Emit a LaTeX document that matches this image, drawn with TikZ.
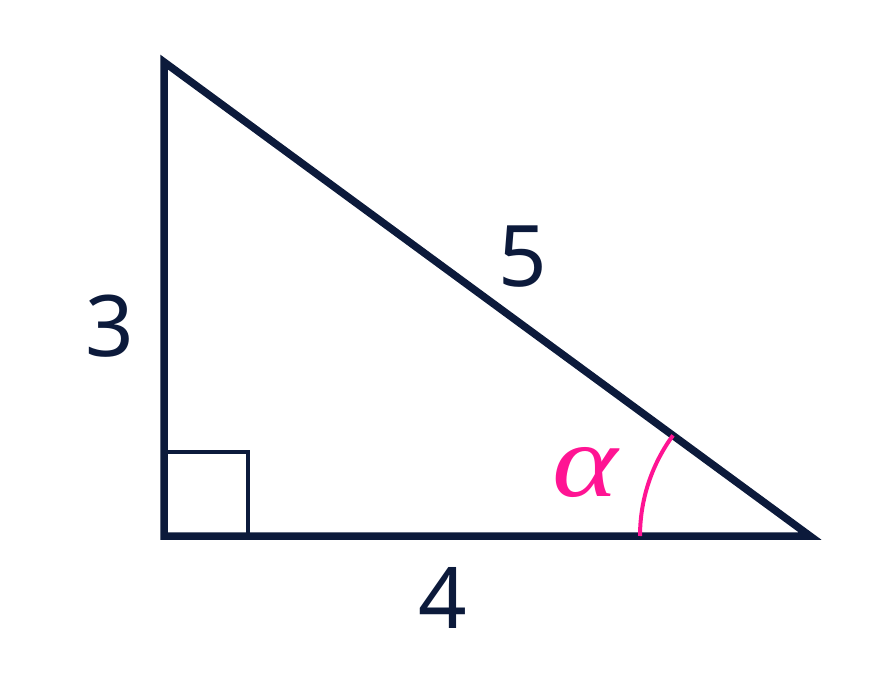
\documentclass[tikz,border=0pt]{standalone}
\usepackage{fontspec}
\setmainfont{Noto Sans}
\newfontfamily\alphafont{Liberation Serif}
\definecolor{navy}{HTML}{0C1A3B}
\definecolor{hotpink}{HTML}{FF1493}
\begin{document}
\begin{tikzpicture}[x=1pt,y=-1pt,
  side/.style={draw=navy,line width=7.5pt,line join=miter},
  rightmark/.style={draw=navy,line width=4pt},
  anglemark/.style={draw=hotpink,line width=4pt},
  numlabel/.style={text=navy,inner sep=0pt,font=\fontsize{85}{85}\selectfont},
  anglelabel/.style={text=hotpink,inner sep=0pt,font=\fontsize{104}{104}\selectfont\alphafont\itshape}]
\useasboundingbox (0,0) rectangle (878,700);
\coordinate (A) at (164,62);
\coordinate (B) at (164,536);
\coordinate (C) at (810,536);
\draw[side] (A) -- (B) -- (C) -- cycle;
\draw[rightmark] (164,452) -- (248,452) -- (248,536);
\draw[anglemark] (C) ++(180:170) arc[start angle=180,end angle=216.3,radius=170];
\node[numlabel] (l3) at (110,326) {3};
\node[numlabel] (l4) at (443,598) {4};
\node[numlabel] (l5) at (523,257) {5};
\node[anglelabel] (al) at (585,473) {\scalebox{1.2}[1]{α}};
\end{tikzpicture}
\end{document}
